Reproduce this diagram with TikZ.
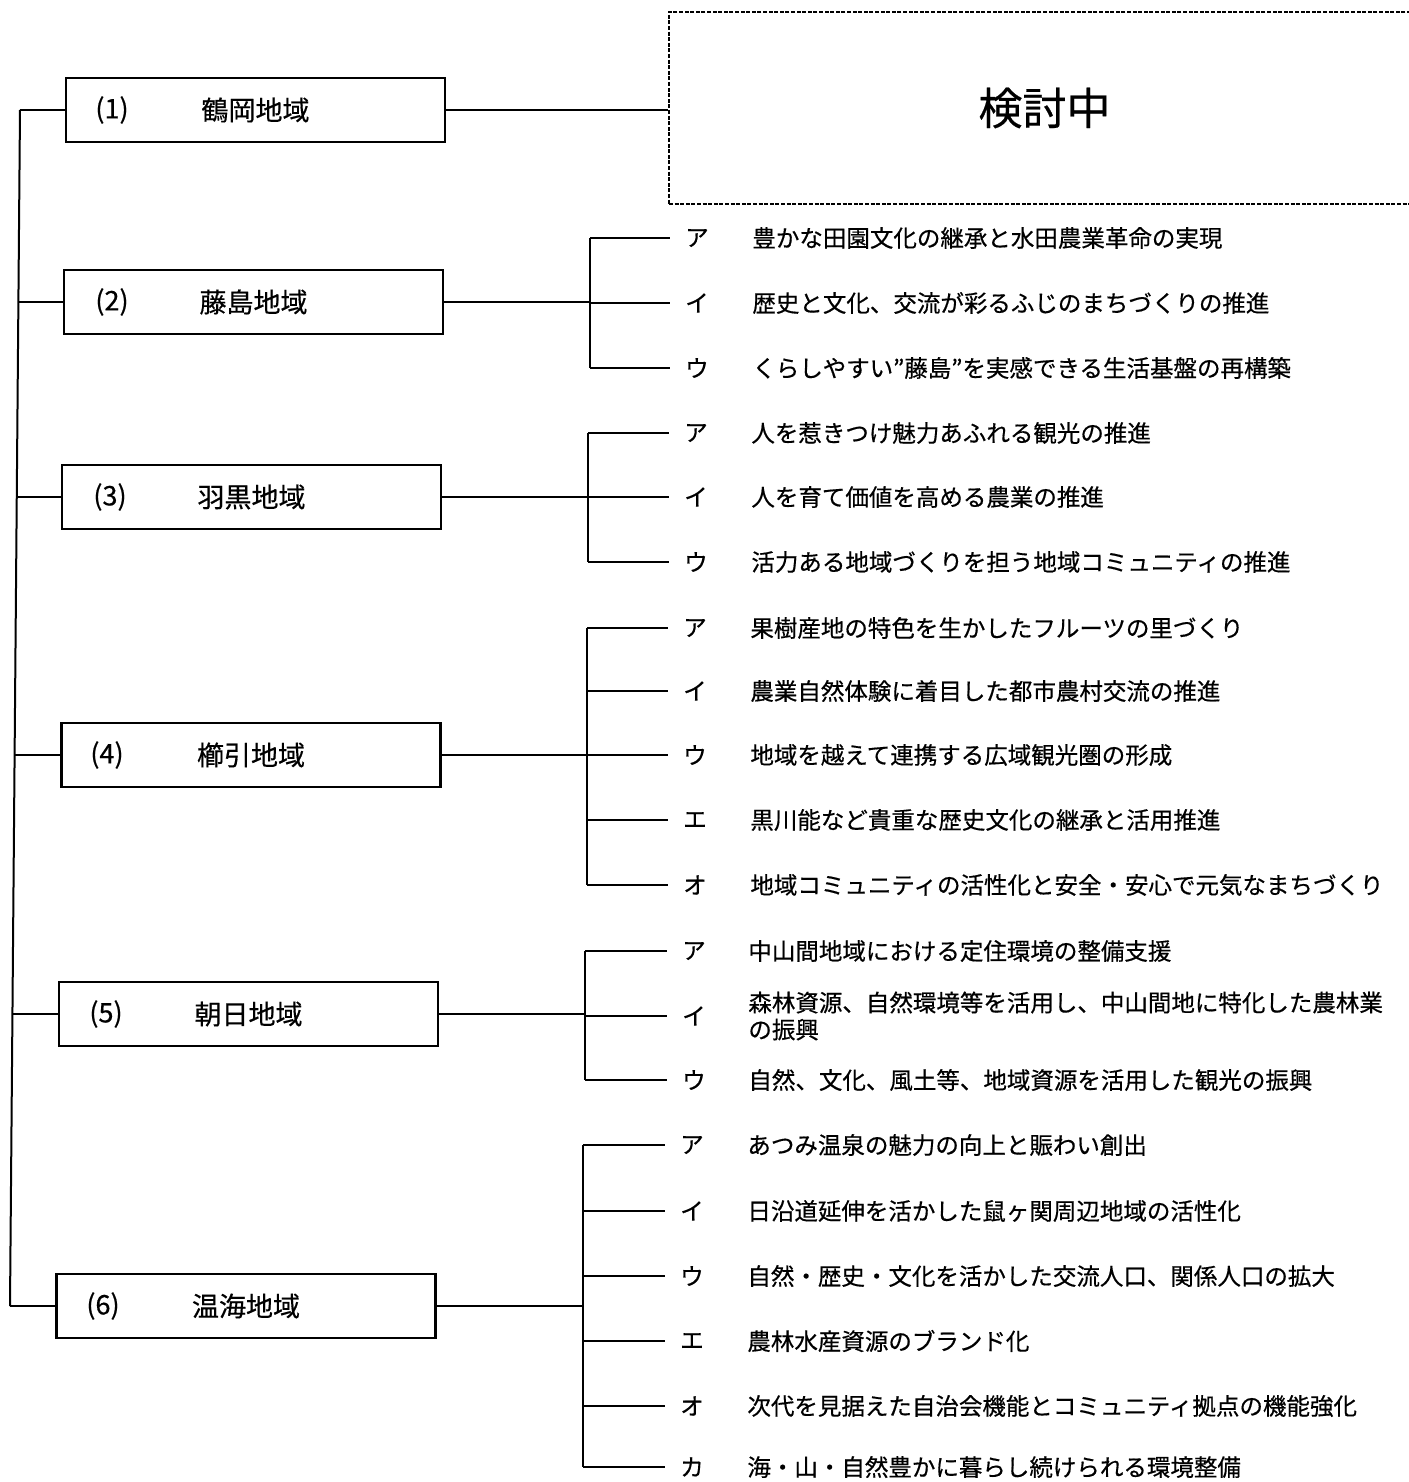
\documentclass[tikz,border=0pt]{standalone}
\usepackage{fontspec}
\setmainfont{Noto Sans CJK JP}[FakeBold=0.5]
\begin{document}
\begin{tikzpicture}[x=0.5pt,y=-0.5pt,
  region/.style={draw, line width=1.3pt, minimum width=189.5pt, minimum height=32pt, inner sep=0pt},
  pending/.style={draw, line width=1pt, dash pattern=on 2pt off 0.8pt, minimum width=375.5pt, minimum height=96pt, inner sep=0pt, font=\fontsize{22}{26}\selectfont},
  link/.style={line width=1pt},
  rnum/.style={inner sep=0pt, font=\fontsize{13.5}{16}\selectfont},
  rname/.style={inner sep=0pt, font=\fontsize{13.5}{16}\selectfont},
  kana/.style={inner sep=0pt, font=\fontsize{11.75}{12}\selectfont},
  item/.style={anchor=west, inner sep=0pt, align=left, font=\fontsize{11.75}{13.5}\selectfont}]
\useasboundingbox (0,0) rectangle (1408,1482);

% trunk coordinates
\coordinate (t1) at (20,110);
\coordinate (t2) at (18.4,302);
\coordinate (t3) at (16.8,497);
\coordinate (t4) at (14.6,755);
\coordinate (t5) at (12.4,1014);
\coordinate (t6) at (10,1306);

% region boxes
\node[region] (b1) at (255.5,110) {};
\node[region] (b2) at (253.5,302) {};
\node[region] (b3) at (251.5,497) {};
\node[region] (b4) at (251,755) {};
\node[region] (b5) at (248.5,1014) {};
\node[region] (b6) at (246,1306) {};

\node[rnum] (n1) at (112,110) {(1)};
\node[rname] (m1) at (b1) {鶴岡地域};
\node[rnum] (n2) at (112,302) {(2)};
\node[rname] (m2) at (b2) {藤島地域};
\node[rnum] (n3) at (110,497) {(3)};
\node[rname] (m3) at (b3) {羽黒地域};
\node[rnum] (n4) at (107,755) {(4)};
\node[rname] (m4) at (b4) {櫛引地域};
\node[rnum] (n5) at (106,1014) {(5)};
\node[rname] (m5) at (b5) {朝日地域};
\node[rnum] (n6) at (103,1306) {(6)};
\node[rname] (m6) at (b6) {温海地域};

\draw[link] (t1) -- (t6);
\foreach \i in {1,...,6}{\draw[link] (t\i) -- (b\i.west);}

% pending box
\node[pending] (tbd) at (1044.5,108) {検討中};
\draw[link] (b1.east) -- (b1.east -| tbd.west);

% group 2
\foreach \y/\k/\t [count=\i] in {238/ア/豊かな田園文化の継承と水田農業革命の実現,
  303/イ/歴史と文化、交流が彩るふじのまちづくりの推進,
  368/ウ/くらしやすい”藤島”を実感できる生活基盤の再構築}{
  \coordinate (r2-\i) at (590,\y);
  \node[kana] (k2-\i) at (697,\y) {\k};
  \node[item] (x2-\i) at (752,\y) {\t};
  \draw[link] (r2-\i) -- ([xshift=-7.5pt]k2-\i.west);
}
\draw[link] (r2-1) -- (r2-3);
\draw[link] (b2.east) -- (b2.east -| r2-1);

% group 3
\foreach \y/\k/\t [count=\i] in {433/ア/人を惹きつけ魅力あふれる観光の推進,
  497/イ/人を育て価値を高める農業の推進,
  562/ウ/活力ある地域づくりを担う地域コミュニティの推進}{
  \coordinate (r3-\i) at (588,\y);
  \node[kana] (k3-\i) at (696,\y) {\k};
  \node[item] (x3-\i) at (751,\y) {\t};
  \draw[link] (r3-\i) -- ([xshift=-7.5pt]k3-\i.west);
}
\draw[link] (r3-1) -- (r3-3);
\draw[link] (b3.east) -- (b3.east -| r3-1);

% group 4
\foreach \y/\k/\t [count=\i] in {628/ア/果樹産地の特色を生かしたフルーツの里づくり,
  691/イ/農業自然体験に着目した都市農村交流の推進,
  755/ウ/地域を越えて連携する広域観光圏の形成,
  820/エ/黒川能など貴重な歴史文化の継承と活用推進,
  885/オ/地域コミュニティの活性化と安全・安心で元気なまちづくり}{
  \coordinate (r4-\i) at (587,\y);
  \node[kana] (k4-\i) at (695,\y) {\k};
  \node[item] (x4-\i) at (750,\y) {\t};
  \draw[link] (r4-\i) -- ([xshift=-7.5pt]k4-\i.west);
}
\draw[link] (r4-1) -- (r4-5);
\draw[link] (b4.east) -- (b4.east -| r4-1);

% group 5
\foreach \y/\k/\t [count=\i] in {951/ア/中山間地域における定住環境の整備支援,
  1016/イ/{森林資源、自然環境等を活用し、中山間地に特化した農林業\\の振興},
  1080/ウ/自然、文化、風土等、地域資源を活用した観光の振興}{
  \coordinate (r5-\i) at (585,\y);
  \node[kana] (k5-\i) at (694,\y) {\k};
  \node[item] (x5-\i) at (748,\y) {\t};
  \draw[link] (r5-\i) -- ([xshift=-7.5pt]k5-\i.west);
}
\draw[link] (r5-1) -- (r5-3);
\draw[link] (b5.east) -- (b5.east -| r5-1);

% group 6
\foreach \y/\k/\t [count=\i] in {1145/ア/あつみ温泉の魅力の向上と賑わい創出,
  1211/イ/日沿道延伸を活かした鼠ヶ関周辺地域の活性化,
  1276/ウ/自然・歴史・文化を活かした交流人口、関係人口の拡大,
  1341/エ/農林水産資源のブランド化,
  1406/オ/次代を見据えた自治会機能とコミュニティ拠点の機能強化,
  1467/カ/海・山・自然豊かに暮らし続けられる環境整備}{
  \coordinate (r6-\i) at (583,\y);
  \node[kana] (k6-\i) at (692,\y) {\k};
  \node[item] (x6-\i) at (747,\y) {\t};
  \draw[link] (r6-\i) -- ([xshift=-7.5pt]k6-\i.west);
}
\draw[link] (r6-1) -- (r6-6);
\draw[link] (b6.east) -- (b6.east -| r6-1);
\end{tikzpicture}
\end{document}
